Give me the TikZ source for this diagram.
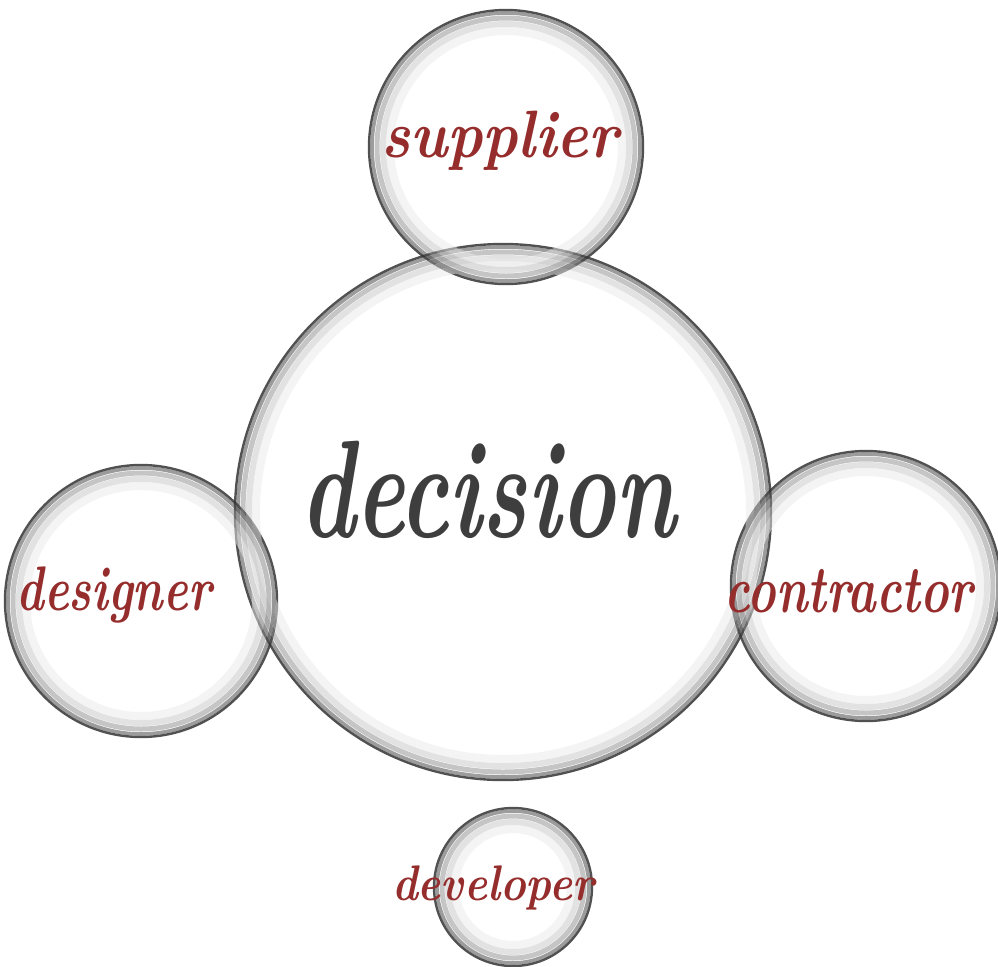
\documentclass[tikz,border=0pt]{standalone}
\usepackage{fontspec}
\usepackage{tikz}
\usepackage{xcolor}
\usetikzlibrary{positioning}
\definecolor{wordred}{RGB}{150,45,45}
\definecolor{wordgray}{RGB}{62,62,62}
\newcommand{\wordfont}[1]{\bfseries\itshape\fontsize{#1}{#1}\selectfont}

\begin{document}
\begin{tikzpicture}[x=0.5pt,y=-0.5pt,
    bubble/.style={circle, draw=black!80, line width=1.2pt, draw opacity=0.85, inner sep=0pt},
    word/.style={anchor=base, inner sep=0pt, text=wordred}]

    \fill[white] (0,0) rectangle (998,966);
    \useasboundingbox (0,0) rectangle (998,966);

    % Bubbles
    \node[bubble, minimum size=268pt] (decision) at (503,512) {};
    \node[bubble, minimum size=137pt] (supplier) at (506,147) {};
    \node[bubble, minimum size=136pt] (designer) at (141,601) {};
    \node[bubble, minimum size=135pt] (contractor) at (866,586) {};
    \node[bubble, minimum size=79pt] (developer) at (513,887) {};

    % Glass rims
    \foreach \bname/\r in {decision/268, supplier/137, designer/136, contractor/135, developer/79}
    {
        \draw[black!70, opacity=0.55, line width=1.8pt] (\bname.center) circle ({\r-3});
        \draw[black!45, opacity=0.5, line width=2.5pt] (\bname.center) circle ({\r-8});
        \draw[black!22, opacity=0.5, line width=3pt] (\bname.center) circle ({\r-14});
        \draw[black!8, opacity=0.5, line width=4pt] (\bname.center) circle ({\r-21});
    }

    % Labels
    \node[word, text=wordgray, font=\wordfont{69.5pt}, xscale=0.67] (decision-text) at (488,537) {decision};
    \node[word, font=\wordfont{33.5pt}, xscale=0.89] (supplier-text) at (500,157) {supplier};
    \node[word, font=\wordfont{31.5pt}, xscale=0.74] (designer-text) at (114,610) {designer};
    \node[word, font=\wordfont{33.5pt}, xscale=0.72] (contractor-text) at (849,612) {contractor};
    \node[word, font=\wordfont{25pt}, xscale=0.87] (developer-text) at (493,900) {developer};
\end{tikzpicture}
\end{document}
